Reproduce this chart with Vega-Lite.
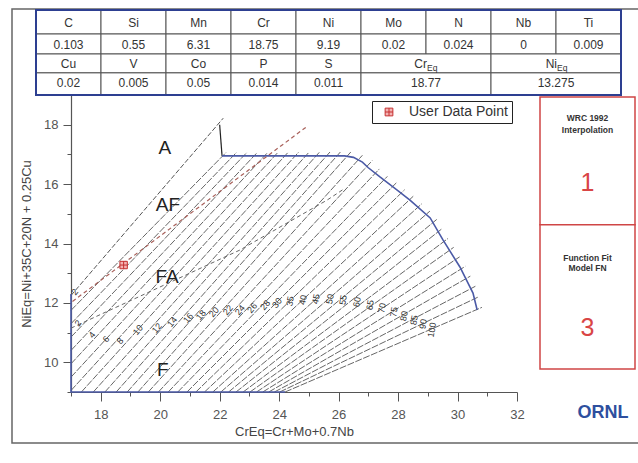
{
"$schema": "https://vega.github.io/schema/vega-lite/v6.json",
"width": 446,
"height": 297,
"autosize": {"type": "none"},
"padding": {"left": 71, "top": 95, "right": 121, "bottom": 71},
"background": "white",
"config": {"view": {"stroke": null}, "font": "Liberation Sans"},
"datasets": {
"frame": [{"x0": 0, "x1": 1, "y0": 0, "y1": 1}],
"cells": [
{"c0":0,"c1":1,"cx":0.5,"r0":0,"r1":1.13,"rm":0.6,"t":"C"},
{"c0":1,"c1":2,"cx":1.5,"r0":0,"r1":1.13,"rm":0.6,"t":"Si"},
{"c0":2,"c1":3,"cx":2.5,"r0":0,"r1":1.13,"rm":0.6,"t":"Mn"},
{"c0":3,"c1":4,"cx":3.5,"r0":0,"r1":1.13,"rm":0.6,"t":"Cr"},
{"c0":4,"c1":5,"cx":4.5,"r0":0,"r1":1.13,"rm":0.6,"t":"Ni"},
{"c0":5,"c1":6,"cx":5.5,"r0":0,"r1":1.13,"rm":0.6,"t":"Mo"},
{"c0":6,"c1":7,"cx":6.5,"r0":0,"r1":1.13,"rm":0.6,"t":"N"},
{"c0":7,"c1":8,"cx":7.5,"r0":0,"r1":1.13,"rm":0.6,"t":"Nb"},
{"c0":8,"c1":9,"cx":8.5,"r0":0,"r1":1.13,"rm":0.6,"t":"Ti"},
{"c0":0,"c1":1,"cx":0.5,"r0":1.13,"r1":2.07,"rm":1.65,"t":"0.103"},
{"c0":1,"c1":2,"cx":1.5,"r0":1.13,"r1":2.07,"rm":1.65,"t":"0.55"},
{"c0":2,"c1":3,"cx":2.5,"r0":1.13,"r1":2.07,"rm":1.65,"t":"6.31"},
{"c0":3,"c1":4,"cx":3.5,"r0":1.13,"r1":2.07,"rm":1.65,"t":"18.75"},
{"c0":4,"c1":5,"cx":4.5,"r0":1.13,"r1":2.07,"rm":1.65,"t":"9.19"},
{"c0":5,"c1":6,"cx":5.5,"r0":1.13,"r1":2.07,"rm":1.65,"t":"0.02"},
{"c0":6,"c1":7,"cx":6.5,"r0":1.13,"r1":2.07,"rm":1.65,"t":"0.024"},
{"c0":7,"c1":8,"cx":7.5,"r0":1.13,"r1":2.07,"rm":1.65,"t":"0"},
{"c0":8,"c1":9,"cx":8.5,"r0":1.13,"r1":2.07,"rm":1.65,"t":"0.009"},
{"c0":0,"c1":1,"cx":0.5,"r0":2.07,"r1":2.96,"rm":2.52,"t":"Cu"},
{"c0":1,"c1":2,"cx":1.5,"r0":2.07,"r1":2.96,"rm":2.52,"t":"V"},
{"c0":2,"c1":3,"cx":2.5,"r0":2.07,"r1":2.96,"rm":2.52,"t":"Co"},
{"c0":3,"c1":4,"cx":3.5,"r0":2.07,"r1":2.96,"rm":2.52,"t":"P"},
{"c0":4,"c1":5,"cx":4.5,"r0":2.07,"r1":2.96,"rm":2.52,"t":"S"},
{"c0":5,"c1":7,"cx":6,"r0":2.07,"r1":2.96,"rm":2.52,"t":""},
{"c0":7,"c1":9,"cx":8,"r0":2.07,"r1":2.96,"rm":2.52,"t":""},
{"c0":0,"c1":1,"cx":0.5,"r0":2.96,"r1":4,"rm":3.45,"t":"0.02"},
{"c0":1,"c1":2,"cx":1.5,"r0":2.96,"r1":4,"rm":3.45,"t":"0.005"},
{"c0":2,"c1":3,"cx":2.5,"r0":2.96,"r1":4,"rm":3.45,"t":"0.05"},
{"c0":3,"c1":4,"cx":3.5,"r0":2.96,"r1":4,"rm":3.45,"t":"0.014"},
{"c0":4,"c1":5,"cx":4.5,"r0":2.96,"r1":4,"rm":3.45,"t":"0.011"},
{"c0":5,"c1":7,"cx":6,"r0":2.96,"r1":4,"rm":3.45,"t":"18.77"},
{"c0":7,"c1":9,"cx":8,"r0":2.96,"r1":4,"rm":3.45,"t":"13.275"}
],
"eqhead": [{"cx":6,"rm":2.52,"t":"Cr","s":"Eq"},{"cx":8,"rm":2.52,"t":"Ni","s":"Eq"}],
"border": [{"c0":0,"c1":9,"r0":0,"r1":4}],
"fnlines": [
{"id":1,"cr":17,"ni":11.75},{"id":1,"cr":22.22,"ni":17.07},
{"id":2,"cr":17,"ni":11.3},{"id":2,"cr":22.57,"ni":17.07},
{"id":3,"cr":17,"ni":10.85},{"id":3,"cr":22.92,"ni":17.07},
{"id":4,"cr":17,"ni":10.4},{"id":4,"cr":23.27,"ni":17.07},
{"id":5,"cr":17,"ni":9.95},{"id":5,"cr":23.62,"ni":17.07},
{"id":6,"cr":17,"ni":9.5},{"id":6,"cr":23.97,"ni":17.08},
{"id":7,"cr":17,"ni":9.05},{"id":7,"cr":24.31,"ni":17.08},
{"id":8,"cr":17.35,"ni":9},{"id":8,"cr":24.66,"ni":17.08},
{"id":9,"cr":17.75,"ni":9},{"id":9,"cr":25.01,"ni":17.08},
{"id":10,"cr":18.14,"ni":9},{"id":10,"cr":25.36,"ni":17.08},
{"id":11,"cr":18.52,"ni":9},{"id":11,"cr":25.71,"ni":17.08},
{"id":12,"cr":18.89,"ni":9},{"id":12,"cr":26.06,"ni":17.08},
{"id":13,"cr":19.25,"ni":9},{"id":13,"cr":26.41,"ni":17.08},
{"id":14,"cr":19.6,"ni":9},{"id":14,"cr":26.8,"ni":16.97},
{"id":15,"cr":19.94,"ni":9},{"id":15,"cr":27.13,"ni":16.79},
{"id":16,"cr":20.27,"ni":9},{"id":16,"cr":27.37,"ni":16.51},
{"id":17,"cr":20.59,"ni":9},{"id":17,"cr":27.64,"ni":16.26},
{"id":18,"cr":20.9,"ni":9},{"id":18,"cr":27.94,"ni":16.04},
{"id":19,"cr":21.2,"ni":9},{"id":19,"cr":28.22,"ni":15.81},
{"id":20,"cr":21.49,"ni":9},{"id":20,"cr":28.51,"ni":15.59},
{"id":21,"cr":21.77,"ni":9},{"id":21,"cr":28.8,"ni":15.34},
{"id":22,"cr":22.04,"ni":9},{"id":22,"cr":29.07,"ni":15.09},
{"id":23,"cr":22.3,"ni":9},{"id":23,"cr":29.3,"ni":14.81},
{"id":24,"cr":22.55,"ni":9},{"id":24,"cr":29.48,"ni":14.5},
{"id":25,"cr":22.79,"ni":9},{"id":25,"cr":29.68,"ni":14.17},
{"id":26,"cr":23.02,"ni":9},{"id":26,"cr":29.87,"ni":13.87},
{"id":27,"cr":23.24,"ni":9},{"id":27,"cr":30.07,"ni":13.55},
{"id":28,"cr":23.45,"ni":9},{"id":28,"cr":30.26,"ni":13.23},
{"id":29,"cr":23.65,"ni":9},{"id":29,"cr":30.43,"ni":12.9},
{"id":30,"cr":23.84,"ni":9},{"id":30,"cr":30.6,"ni":12.56},
{"id":31,"cr":24.02,"ni":9},{"id":31,"cr":30.72,"ni":12.21},
{"id":32,"cr":24.2,"ni":9},{"id":32,"cr":30.82,"ni":11.85}
],
"aline": [{"cr":17,"ni":12.25},{"cr":22.12,"ni":18.22}],
"vline": [{"cr":22.0,"ni":18.0},{"cr":22.08,"ni":16.95}],
"blue": [
{"part":"top","k":1,"cr":22.08,"ni":16.95},
{"part":"top","k":2,"cr":26.2,"ni":16.95},
{"part":"top","k":3,"cr":26.5,"ni":16.9},
{"part":"top","k":4,"cr":26.8,"ni":16.74},
{"part":"top","k":5,"cr":27.0,"ni":16.55},
{"part":"top","k":6,"cr":27.39,"ni":16.24},
{"part":"top","k":7,"cr":27.97,"ni":15.8},
{"part":"top","k":8,"cr":28.4,"ni":15.46},
{"part":"top","k":9,"cr":29.08,"ni":14.86},
{"part":"top","k":10,"cr":29.51,"ni":14.12},
{"part":"top","k":11,"cr":30.08,"ni":13.21},
{"part":"top","k":12,"cr":30.52,"ni":12.33},
{"part":"top","k":13,"cr":30.66,"ni":11.76},
{"part":"base","k":1,"cr":17,"ni":12.3},
{"part":"base","k":2,"cr":17,"ni":9},
{"part":"base","k":3,"cr":24.2,"ni":9}
],
"afline": [{"cr":17.05,"ni":12.05},{"cr":24.95,"ni":17.95}],
"faline": [{"cr":17.0,"ni":11.15},{"cr":22.68,"ni":13.78},{"cr":25.61,"ni":15.46},{"cr":26.2,"ni":15.85}],
"fnlabels": [
{"t":"2","cr":17.13,"ni":12.37},
{"t":"2","cr":17.24,"ni":11.32},
{"t":"4","cr":17.71,"ni":10.92},
{"t":"6","cr":18.18,"ni":10.78},
{"t":"8","cr":18.65,"ni":10.72},
{"t":"10","cr":19.25,"ni":11.09},
{"t":"12","cr":19.89,"ni":11.15},
{"t":"14","cr":20.4,"ni":11.36},
{"t":"16","cr":20.94,"ni":11.49},
{"t":"18","cr":21.37,"ni":11.59},
{"t":"20","cr":21.81,"ni":11.69},
{"t":"22","cr":22.28,"ni":11.76},
{"t":"24","cr":22.68,"ni":11.76},
{"t":"26","cr":23.09,"ni":11.83},
{"t":"28","cr":23.53,"ni":11.93},
{"t":"30","cr":23.93,"ni":12.0},
{"t":"35","cr":24.37,"ni":12.06},
{"t":"40","cr":24.8,"ni":12.1},
{"t":"45","cr":25.24,"ni":12.13},
{"t":"50","cr":25.71,"ni":12.13},
{"t":"55","cr":26.15,"ni":12.1},
{"t":"60","cr":26.62,"ni":12.03},
{"t":"65","cr":27.06,"ni":11.93},
{"t":"70","cr":27.46,"ni":11.83},
{"t":"75","cr":27.86,"ni":11.69},
{"t":"80","cr":28.2,"ni":11.56},
{"t":"85","cr":28.54,"ni":11.42},
{"t":"90","cr":28.84,"ni":11.29},
{"t":"100","cr":29.14,"ni":11.09}
],
"regions": [
{"t":"A","cr":20.16,"ni":17.22},
{"t":"AF","cr":20.26,"ni":15.3},
{"t":"FA","cr":20.23,"ni":12.87},
{"t":"F","cr":20.09,"ni":9.74}
],
"user": [{"cr":18.77,"ni":13.275,"label":"User Data Point"}],
"panelboxes": [{"x0":0,"x1":1,"y0":0,"y1":0.94},{"x0":0,"x1":1,"y0":0.94,"y1":2}],
"paneltext": [
{"px":0.5,"py":0.154,"t":"WRC 1992"},
{"px":0.5,"py":0.243,"t":"Interpolation"},
{"px":0.5,"py":1.184,"t":"Function Fit"},
{"px":0.5,"py":1.257,"t":"Model FN"}
],
"panelnum": [{"px":0.5,"py":0.632,"t":"1"},{"px":0.5,"py":1.699,"t":"3"}],
"ornl": [{"px":0.663,"py":2.324,"t":"ORNL"}]
},
"layer": [
{
"data": {"name": "frame"},
"mark": {"type": "rect", "filled": false, "stroke": "#666666", "strokeWidth": 1.5},
"encoding": {
"x": {"field": "x0", "type": "quantitative", "scale": {"domain": [0, 1], "range": [-59, 569], "nice": false, "zero": false}, "axis": null},
"x2": {"field": "x1"},
"y": {"field": "y0", "type": "quantitative", "scale": {"domain": [0, 1], "range": [-86, 348], "nice": false, "zero": false}, "axis": null},
"y2": {"field": "y1"}
}
},
{
"layer": [
{
"data": {"name": "cells"},
"mark": {"type": "rect", "fill": "white", "stroke": "#555555", "strokeWidth": 1},
"encoding": {
"x": {"field": "c0", "type": "quantitative", "scale": {"domain": [0, 9], "range": [-35, 550], "nice": false, "zero": false}, "axis": null},
"x2": {"field": "c1"},
"y": {"field": "r0", "type": "quantitative", "scale": {"domain": [0, 4], "range": [-85, 0], "nice": false, "zero": false}, "axis": null},
"y2": {"field": "r1"}
}
},
{
"data": {"name": "border"},
"mark": {"type": "rect", "filled": false, "stroke": "#2d3f91", "strokeWidth": 2},
"encoding": {
"x": {"field": "c0", "type": "quantitative", "scale": {"domain": [0, 9], "range": [-35, 550], "nice": false, "zero": false}, "axis": null},
"x2": {"field": "c1"},
"y": {"field": "r0", "type": "quantitative", "scale": {"domain": [0, 4], "range": [-85, 0], "nice": false, "zero": false}, "axis": null},
"y2": {"field": "r1"}
}
},
{
"data": {"name": "cells"},
"mark": {"type": "text", "fontSize": 12, "color": "#333333"},
"encoding": {
"x": {"field": "cx", "type": "quantitative", "scale": {"domain": [0, 9], "range": [-35, 550], "nice": false, "zero": false}, "axis": null},
"y": {"field": "rm", "type": "quantitative", "scale": {"domain": [0, 4], "range": [-85, 0], "nice": false, "zero": false}, "axis": null},
"text": {"field": "t"}
}
},
{
"data": {"name": "eqhead"},
"mark": {"type": "text", "fontSize": 12, "color": "#333333", "align": "right", "dx": 1},
"encoding": {
"x": {"field": "cx", "type": "quantitative", "scale": {"domain": [0, 9], "range": [-35, 550], "nice": false, "zero": false}, "axis": null},
"y": {"field": "rm", "type": "quantitative", "scale": {"domain": [0, 4], "range": [-85, 0], "nice": false, "zero": false}, "axis": null},
"text": {"field": "t"}
}
},
{
"data": {"name": "eqhead"},
"mark": {"type": "text", "fontSize": 8.5, "color": "#333333", "align": "left", "dx": 1, "dy": 4},
"encoding": {
"x": {"field": "cx", "type": "quantitative", "scale": {"domain": [0, 9], "range": [-35, 550], "nice": false, "zero": false}, "axis": null},
"y": {"field": "rm", "type": "quantitative", "scale": {"domain": [0, 4], "range": [-85, 0], "nice": false, "zero": false}, "axis": null},
"text": {"field": "s"}
}
}
]
},
{
"layer": [
{
"data": {"name": "fnlines"},
"mark": {"type": "line", "color": "#555555", "strokeWidth": 0.9, "strokeDash": [7, 1.5]},
"encoding": {
"x": {"field": "cr", "type": "quantitative", "scale": {"domain": [17, 32], "nice": false, "zero": false},
"axis": {"orient": "bottom", "values": [18, 20, 22, 24, 26, 28, 30, 32], "tickSize": 9, "labelPadding": 7, "labelFontSize": 13, "labelColor": "#555555", "tickColor": "#555555", "domainColor": "#555555", "domainWidth": 1.2, "labelFlush": false, "labelOverlap": false, "grid": false, "title": "CrEq=Cr+Mo+0.7Nb", "titleFontSize": 13, "titleFontWeight": "normal", "titleColor": "#444444", "titlePadding": 4}},
"y": {"field": "ni", "type": "quantitative", "scale": {"domain": [9, 19], "nice": false, "zero": false},
"axis": {"orient": "left", "values": [10, 12, 14, 16, 18], "tickSize": 8, "labelPadding": 5, "labelFontSize": 13, "labelColor": "#555555", "tickColor": "#555555", "domainColor": "#555555", "domainWidth": 1.2, "labelFlush": false, "labelOverlap": false, "grid": false, "title": "NiEq=Ni+35C+20N + 0.25Cu", "titleFontSize": 13, "titleFontWeight": "normal", "titleColor": "#444444", "titlePadding": 10}},
"detail": {"field": "id", "type": "nominal"}
}
},
{
"data": {"name": "aline"},
"mark": {"type": "line", "color": "#555555", "strokeWidth": 1, "strokeDash": [5, 2]},
"encoding": {
"x": {"field": "cr", "type": "quantitative", "scale": {"domain": [17, 32], "nice": false, "zero": false},
"axis": {"orient": "bottom", "values": [17, 19, 21, 23, 25, 27, 29, 31], "tickSize": 4, "labels": false, "domain": false, "grid": false, "title": null, "tickColor": "#555555"}},
"y": {"field": "ni", "type": "quantitative", "scale": {"domain": [9, 19], "nice": false, "zero": false},
"axis": {"orient": "left", "values": [9, 11, 13, 15, 17], "tickSize": 4, "labels": false, "domain": false, "grid": false, "title": null, "tickColor": "#555555"}}
}
},
{
"data": {"name": "vline"},
"mark": {"type": "line", "color": "#222222", "strokeWidth": 1.2},
"encoding": {
"x": {"field": "cr", "type": "quantitative", "scale": {"domain": [17, 32], "nice": false, "zero": false}, "axis": null},
"y": {"field": "ni", "type": "quantitative", "scale": {"domain": [9, 19], "nice": false, "zero": false}, "axis": null}
}
},
{
"data": {"name": "blue"},
"mark": {"type": "line", "color": "#4b5aa6", "strokeWidth": 1.6},
"encoding": {
"x": {"field": "cr", "type": "quantitative", "scale": {"domain": [17, 32], "nice": false, "zero": false}, "axis": null},
"y": {"field": "ni", "type": "quantitative", "scale": {"domain": [9, 19], "nice": false, "zero": false}, "axis": null},
"detail": {"field": "part", "type": "nominal"},
"order": {"field": "k", "type": "quantitative"}
}
},
{
"data": {"name": "afline"},
"mark": {"type": "line", "color": "#a8605a", "strokeWidth": 1.2, "strokeDash": [4, 3]},
"encoding": {
"x": {"field": "cr", "type": "quantitative", "scale": {"domain": [17, 32], "nice": false, "zero": false}, "axis": null},
"y": {"field": "ni", "type": "quantitative", "scale": {"domain": [9, 19], "nice": false, "zero": false}, "axis": null}
}
},
{
"data": {"name": "faline"},
"mark": {"type": "line", "color": "#666666", "strokeWidth": 1, "strokeDash": [4, 3]},
"encoding": {
"x": {"field": "cr", "type": "quantitative", "scale": {"domain": [17, 32], "nice": false, "zero": false}, "axis": null},
"y": {"field": "ni", "type": "quantitative", "scale": {"domain": [9, 19], "nice": false, "zero": false}, "axis": null}
}
},
{
"data": {"name": "fnlabels"},
"transform": [{"filter": "datum.cr < 24"}],
"mark": {"type": "text", "fontSize": 9, "color": "#333333", "angle": -50},
"encoding": {
"x": {"field": "cr", "type": "quantitative", "scale": {"domain": [17, 32], "nice": false, "zero": false}, "axis": null},
"y": {"field": "ni", "type": "quantitative", "scale": {"domain": [9, 19], "nice": false, "zero": false}, "axis": null},
"text": {"field": "t"}
}
},
{
"data": {"name": "fnlabels"},
"transform": [{"filter": "datum.cr >= 24"}],
"mark": {"type": "text", "fontSize": 9, "color": "#333333", "angle": -80},
"encoding": {
"x": {"field": "cr", "type": "quantitative", "scale": {"domain": [17, 32], "nice": false, "zero": false}, "axis": null},
"y": {"field": "ni", "type": "quantitative", "scale": {"domain": [9, 19], "nice": false, "zero": false}, "axis": null},
"text": {"field": "t"}
}
},
{
"data": {"name": "regions"},
"mark": {"type": "text", "fontSize": 19, "color": "#222222"},
"encoding": {
"x": {"field": "cr", "type": "quantitative", "scale": {"domain": [17, 32], "nice": false, "zero": false}, "axis": null},
"y": {"field": "ni", "type": "quantitative", "scale": {"domain": [9, 19], "nice": false, "zero": false}, "axis": null},
"text": {"field": "t"}
}
},
{
"data": {"name": "user"},
"mark": {"type": "point", "shape": "M-1,-1H1V1H-1ZM-1,0H1M0,-1V1", "size": 55, "filled": true, "opacity": 1, "stroke": "#c53030", "strokeWidth": 1},
"encoding": {
"x": {"field": "cr", "type": "quantitative", "scale": {"domain": [17, 32], "nice": false, "zero": false}, "axis": null},
"y": {"field": "ni", "type": "quantitative", "scale": {"domain": [9, 19], "nice": false, "zero": false}, "axis": null},
"color": {"field": "label", "type": "nominal", "scale": {"range": ["#f3b2b2"]},
"legend": {"title": null, "orient": "none", "legendX": 301, "legendY": 6, "strokeColor": "#222222", "fillColor": "white", "padding": 4, "symbolType": "M-1,-1H1V1H-1ZM-1,0H1M0,-1V1", "symbolSize": 60, "symbolStrokeColor": "#c53030", "symbolStrokeWidth": 1, "symbolOffset": 6, "labelOffset": 13, "labelFontSize": 14, "labelColor": "#333333", "labelFont": "Liberation Sans"}}
}
}
],
"resolve": {"axis": {"x": "independent", "y": "independent"}}
},
{
"layer": [
{
"data": {"name": "panelboxes"},
"mark": {"type": "rect", "fill": "white", "stroke": "#cf4646", "strokeWidth": 1.5},
"encoding": {
"x": {"field": "x0", "type": "quantitative", "scale": {"domain": [0, 1], "range": [469, 564], "nice": false, "zero": false}, "axis": null},
"x2": {"field": "x1"},
"y": {"field": "y0", "type": "quantitative", "scale": {"domain": [0, 2], "range": [2, 274], "nice": false, "zero": false}, "axis": null},
"y2": {"field": "y1"}
}
},
{
"data": {"name": "paneltext"},
"mark": {"type": "text", "fontSize": 8.5, "fontWeight": "bold", "color": "#333333"},
"encoding": {
"x": {"field": "px", "type": "quantitative", "scale": {"domain": [0, 1], "range": [469, 564], "nice": false, "zero": false}, "axis": null},
"y": {"field": "py", "type": "quantitative", "scale": {"domain": [0, 2], "range": [2, 274], "nice": false, "zero": false}, "axis": null},
"text": {"field": "t"}
}
},
{
"data": {"name": "panelnum"},
"mark": {"type": "text", "fontSize": 25, "color": "#d94545"},
"encoding": {
"x": {"field": "px", "type": "quantitative", "scale": {"domain": [0, 1], "range": [469, 564], "nice": false, "zero": false}, "axis": null},
"y": {"field": "py", "type": "quantitative", "scale": {"domain": [0, 2], "range": [2, 274], "nice": false, "zero": false}, "axis": null},
"text": {"field": "t"}
}
},
{
"data": {"name": "ornl"},
"mark": {"type": "text", "fontSize": 18, "fontWeight": "bold", "color": "#2e4f9e"},
"encoding": {
"x": {"field": "px", "type": "quantitative", "scale": {"domain": [0, 1], "range": [469, 564], "nice": false, "zero": false}, "axis": null},
"y": {"field": "py", "type": "quantitative", "scale": {"domain": [0, 2], "range": [2, 274], "nice": false, "zero": false}, "axis": null},
"text": {"field": "t"}
}
}
]
}
],
"resolve": {"scale": {"x": "independent", "y": "independent"}}
}
